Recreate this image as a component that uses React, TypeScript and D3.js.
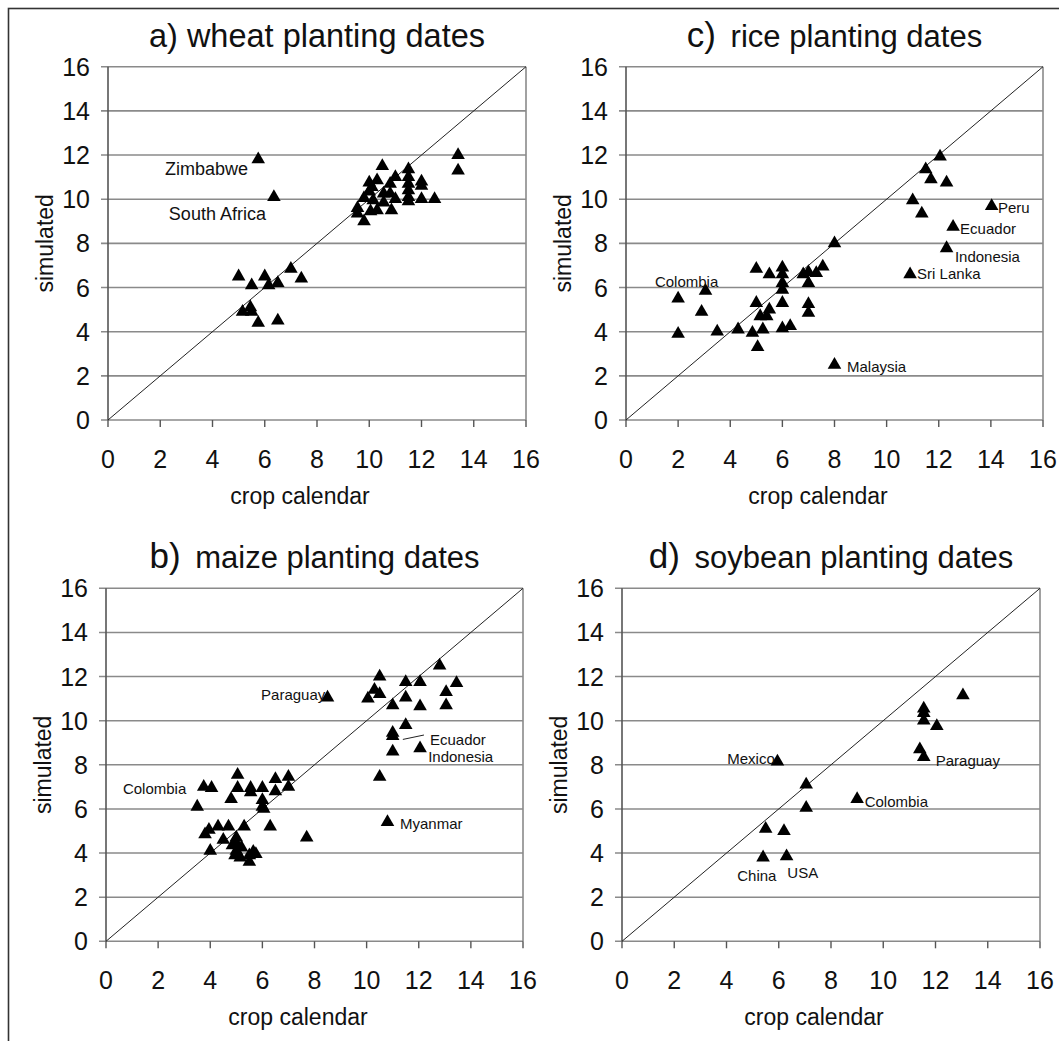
import React from "react";
import * as d3 from "d3";

const ticks = [0, 2, 4, 6, 8, 10, 12, 14, 16];

const wheatCalendar = [5.75, 6.35, 5.0, 5.5, 6.0, 6.15, 6.5, 7.0, 7.4, 5.15, 5.45, 5.5, 5.75, 6.5, 10.5, 13.4, 13.4, 10.0, 10.3, 10.8, 11.0, 11.5, 11.5, 11.5, 11.5, 11.5, 11.5, 12.0, 12.0, 12.0, 12.5, 11.0, 10.85, 10.55, 10.3, 10.0, 9.8, 9.55, 9.55, 9.8, 10.05, 10.15, 10.1, 10.55, 10.8];
const wheatSimulated = [11.8, 10.1, 6.5, 6.1, 6.5, 6.1, 6.2, 6.85, 6.4, 4.9, 5.1, 4.9, 4.4, 4.5, 11.5, 12.0, 11.3, 10.75, 10.85, 10.7, 11.0, 11.35, 11.0, 10.7, 10.4, 10.1, 9.9, 10.8, 10.6, 10.0, 10.0, 10.0, 9.5, 10.25, 9.5, 10.35, 10.05, 9.6, 9.35, 9.0, 9.45, 9.95, 10.55, 9.85, 10.25];

const riceCalendar = [12.05, 11.5, 11.7, 12.3, 11.0, 11.35, 14.03, 12.55, 12.3, 10.9, 8.0, 8.0, 2.0, 3.05, 2.9, 2.0, 3.5, 4.3, 4.85, 5.05, 5.25, 5.0, 5.0, 5.15, 5.5, 5.4, 5.5, 6.0, 6.0, 6.0, 6.0, 6.0, 6.0, 6.3, 6.8, 7.0, 7.0, 7.3, 7.55, 7.0, 7.0];
const riceSimulated = [11.93, 11.35, 10.9, 10.75, 9.95, 9.35, 9.69, 8.75, 7.78, 6.6, 8.0, 2.5, 5.5, 5.85, 4.9, 3.9, 4.0, 4.1, 3.95, 3.3, 4.1, 6.85, 5.3, 4.7, 5.0, 4.7, 6.6, 6.9, 6.6, 6.2, 5.9, 5.3, 4.15, 4.25, 6.6, 6.7, 6.2, 6.65, 6.95, 5.25, 4.85];

const maizeCalendar = [3.5, 3.75, 4.05, 5.05, 5.05, 4.8, 5.55, 5.55, 6.0, 6.0, 6.0, 6.5, 6.5, 7.0, 7.0, 8.5, 10.5, 10.3, 10.05, 10.5, 11.0, 11.5, 11.5, 12.05, 12.05, 12.8, 13.05, 13.05, 13.45, 11.5, 11.0, 11.0, 11.0, 12.05, 10.5, 10.8, 3.8, 3.95, 4.0, 4.3, 4.5, 4.7, 4.85, 5.0, 5.0, 5.0, 4.95, 5.15, 5.2, 5.3, 5.5, 5.5, 5.65, 5.75, 6.3, 7.7, 6.05];
const maizeSimulated = [6.1, 7.0, 6.95, 7.55, 6.95, 6.45, 6.95, 6.75, 6.95, 6.4, 6.1, 7.35, 6.8, 7.45, 7.0, 11.05, 12.0, 11.4, 11.0, 11.2, 10.7, 11.75, 11.05, 11.75, 10.65, 12.5, 11.3, 10.7, 11.7, 9.8, 9.45, 9.3, 8.6, 8.75, 7.45, 5.4, 4.85, 5.05, 4.1, 5.2, 4.6, 5.2, 4.35, 4.7, 4.45, 4.1, 3.9, 3.8, 4.25, 5.2, 3.9, 3.6, 4.05, 3.95, 5.2, 4.7, 6.0];

const soyCalendar = [13.05, 11.55, 11.55, 11.55, 12.05, 11.4, 11.55, 5.95, 7.05, 7.05, 9.0, 5.5, 6.2, 5.4, 6.3];
const soySimulated = [11.15, 10.55, 10.35, 10.0, 9.75, 8.7, 8.35, 8.15, 7.1, 6.05, 6.45, 5.1, 5.0, 3.8, 3.85];

const wheatLabels = [
  { text: "Zimbabwe", x: 2.18, y: 11.1 },
  { text: "South Africa", x: 2.33, y: 9.06 },
];
const riceLabels = [
  { text: "Peru", x: 14.27, y: 9.37 },
  { text: "Ecuador", x: 12.82, y: 8.42 },
  { text: "Indonesia", x: 12.62, y: 7.16 },
  { text: "Sri Lanka", x: 11.17, y: 6.39 },
  { text: "Malaysia", x: 8.48, y: 2.17 },
  { text: "Colombia", x: 1.11, y: 6.02 },
];
const maizeLabels = [
  { text: "Paraguay", x: 5.95, y: 10.94 },
  { text: "Colombia", x: 0.65, y: 6.68 },
  { text: "Ecuador", x: 12.43, y: 8.9 },
  { text: "Indonesia", x: 12.36, y: 8.13 },
  { text: "Myanmar", x: 11.28, y: 5.1 },
];
const soyLabels = [
  { text: "Mexico", x: 4.03, y: 8.04 },
  { text: "Paraguay", x: 12.01, y: 7.95 },
  { text: "Colombia", x: 9.29, y: 6.1 },
  { text: "China", x: 4.41, y: 2.74 },
  { text: "USA", x: 6.33, y: 2.88 },
];
const maizeLeader = [[11.39, 9.15], [12.2, 9.35]];

const FONT = "'Liberation Sans', Arial, Helvetica, sans-serif";

type Panel = {
  letter: string;
  name: string;
  xs: number[];
  ys: number[];
  labels: { text: string; x: number; y: number }[];
  labelSize: number;
  left: number;
  right: number;
  bottom: number;
  top: number;
  bigLetter: boolean;
  leader?: number[][];
};

const panels: Panel[] = [
  { letter: "a)", name: "wheat planting dates", xs: wheatCalendar, ys: wheatSimulated, labels: wheatLabels, labelSize: 18, left: 108, right: 526, bottom: 420, top: 66.7, bigLetter: false },
  { letter: "c)", name: "rice planting dates", xs: riceCalendar, ys: riceSimulated, labels: riceLabels, labelSize: 15, left: 626, right: 1043, bottom: 420, top: 66.7, bigLetter: true },
  { letter: "b)", name: "maize planting dates", xs: maizeCalendar, ys: maizeSimulated, labels: maizeLabels, labelSize: 15, left: 106, right: 523, bottom: 941.3, top: 588.3, bigLetter: true, leader: maizeLeader },
  { letter: "d)", name: "soybean planting dates", xs: soyCalendar, ys: soySimulated, labels: soyLabels, labelSize: 15, left: 622, right: 1040, bottom: 941.3, top: 588.3, bigLetter: true },
];

function PanelView({ p }: { p: Panel }) {
  const x = d3.scaleLinear().domain([0, 16]).range([p.left, p.right]);
  const y = d3.scaleLinear().domain([0, 16]).range([p.bottom, p.top]);
  const tri = d3.symbol().type(d3.symbolTriangle).size(80)();
  const grid = "#8a8a8a";
  const line = d3.line<number[]>().x((d) => x(d[0])).y((d) => y(d[1]));
  const cx = (p.left + p.right) / 2;
  return (
    <g>
      <text x={cx} y={p.top - 20} textAnchor="middle" fontSize={p.bigLetter ? 31 : 32.5} fill="#111" fontFamily={FONT}>
        <tspan fontSize={p.bigLetter ? 35 : 32.5}>{p.letter}</tspan>
        <tspan dx={p.bigLetter ? 6 : 0}>{" " + p.name}</tspan>
      </text>
      {ticks.map((t) => (
        <line key={"g" + t} x1={x(0) - 7} x2={x(16)} y1={y(t)} y2={y(t)} stroke={grid} strokeWidth={1.6} />
      ))}
      <line x1={x(0)} x2={x(0)} y1={y(0)} y2={y(16)} stroke="#555" strokeWidth={1.6} />
      <line x1={x(16)} x2={x(16)} y1={y(0)} y2={y(16)} stroke={grid} strokeWidth={1.6} />
      {ticks.map((t) => (
        <line key={"xt" + t} x1={x(t)} x2={x(t)} y1={y(0)} y2={y(0) + 7} stroke="#555" strokeWidth={1.4} />
      ))}
      {ticks.map((t) => (
        <text key={"yl" + t} x={x(0) - 18} y={y(t) + 9} textAnchor="end" fontSize={25} fill="#111" fontFamily={FONT}>
          {t}
        </text>
      ))}
      {ticks.map((t) => (
        <text key={"xl" + t} x={x(t)} y={y(0) + 48} textAnchor="middle" fontSize={25} fill="#111" fontFamily={FONT}>
          {t}
        </text>
      ))}
      <text x={x(0) + 192} y={y(0) + 84} textAnchor="middle" fontSize={23} fill="#111" fontFamily={FONT}>
        crop calendar
      </text>
      <text
        transform={`translate(${x(0) - 55},${(y(0) + y(16)) / 2}) rotate(-90)`}
        textAnchor="middle"
        fontSize={23}
        fill="#111"
        fontFamily={FONT}
      >
        simulated
      </text>
      <line x1={x(0)} y1={y(0)} x2={x(16)} y2={y(16)} stroke="#222" strokeWidth={1} />
      {p.xs.map((v, i) => (
        <path key={"pt" + i} d={tri || ""} transform={`translate(${x(v)},${y(p.ys[i])})`} fill="#000" />
      ))}
      {p.labels.map((l) => (
        <text key={l.text} x={x(l.x)} y={y(l.y)} fontSize={p.labelSize} fill="#111" fontFamily={FONT}>
          {l.text}
        </text>
      ))}
      {p.leader && <path d={line(p.leader) || ""} stroke="#222" strokeWidth={1} fill="none" />}
    </g>
  );
}

export default function App() {
  return (
    <svg width={1059} height={1041} style={{ position: "absolute", left: 0, top: 0, background: "#fff" }}>
      <rect x={0} y={0} width={1059} height={1041} fill="#fff" />
      <rect x={8.5} y={8.5} width={1060} height={1040} fill="none" stroke="#333" strokeWidth={1.6} />
      {panels.map((p) => (
        <PanelView key={p.letter} p={p} />
      ))}
    </svg>
  );
}
